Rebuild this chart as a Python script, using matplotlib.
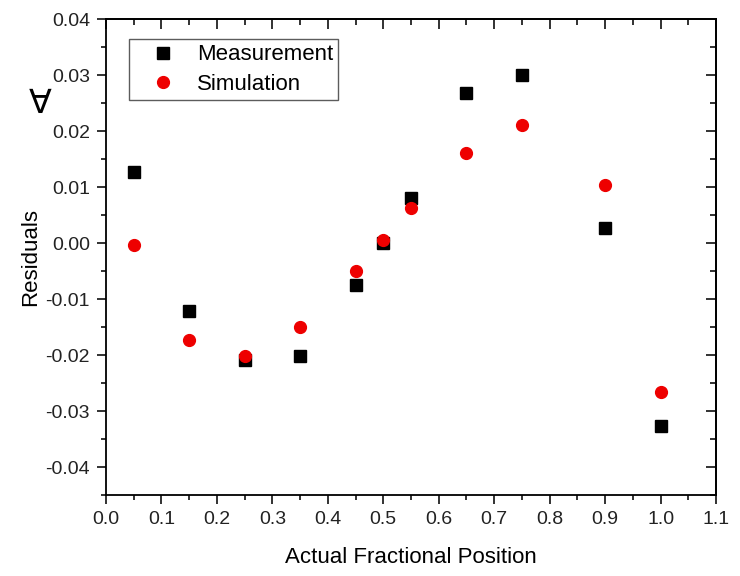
import numpy as np
import matplotlib.pyplot as plt
from matplotlib.ticker import MultipleLocator

plt.rcParams['font.family'] = ['Liberation Sans', 'DejaVu Sans']

# data
x_pos = [0.05, 0.15, 0.25, 0.35, 0.45, 0.50, 0.55, 0.65, 0.75, 0.90, 1.00]
measurement = [0.0127, -0.0121, -0.0209, -0.0202, -0.0075, 0.0000,
               0.0081, 0.0267, 0.0300, 0.0026, -0.0326]
simulation = [-0.0004, -0.0173, -0.0202, -0.0150, -0.0050, 0.0006,
              0.0062, 0.0160, 0.0210, 0.0104, -0.0266]

fig = plt.figure(figsize=(7.4, 5.76), dpi=100)
ax = fig.add_axes([0.1432, 0.1406, 0.8244, 0.8264])

ax.plot(x_pos, measurement, 's', color='black', markersize=8, label='Measurement')
ax.plot(x_pos, simulation, 'o', color='#ee0000', markersize=8.5, label='Simulation')

ax.set_xlim(0.0, 1.1)
ax.set_ylim(-0.045, 0.04)
xt = np.arange(0.0, 1.11, 0.1)
yt = np.arange(-0.04, 0.041, 0.01)
ax.set_xticks(xt)
ax.set_xticklabels([f"{v:.1f}" for v in xt])
ax.set_yticks(yt)
ax.set_yticklabels([f"{v:.2f}" for v in yt])
ax.xaxis.set_minor_locator(MultipleLocator(0.05))
ax.yaxis.set_minor_locator(MultipleLocator(0.005))

# bottom/left ticks point out
ax.tick_params(which='both', direction='out', width=1.3, labelsize=14,
               colors='#222222', pad=5)
ax.tick_params(which='major', length=6.5)
ax.tick_params(which='minor', length=3.5)

# top/right mirror ticks point in, no labels
top = ax.secondary_xaxis('top')
top.set_xticks(xt)
top.xaxis.set_minor_locator(MultipleLocator(0.05))
right = ax.secondary_yaxis('right')
right.set_yticks(yt)
right.yaxis.set_minor_locator(MultipleLocator(0.005))
for sec in (top, right):
    sec.tick_params(which='both', direction='in', width=1.3, colors='#222222',
                    labeltop=False, labelright=False, labelbottom=False, labelleft=False)
    sec.tick_params(which='major', length=7)
    sec.tick_params(which='minor', length=4.5)
    for s in sec.spines.values():
        s.set_linewidth(1.3)
for s in ax.spines.values():
    s.set_linewidth(1.3)

ax.set_xlabel("Actual Fractional Position", fontsize=16, labelpad=14)
ax.set_ylabel("Residuals", fontsize=16, labelpad=3)

fig.text(0.054, 0.818, "∀", fontsize=24, ha='center', va='center')

leg = ax.legend(loc='upper left', bbox_to_anchor=(0.037, 0.957), fontsize=16,
                frameon=True, fancybox=False, edgecolor='#333333',
                handletextpad=0.15, borderpad=0.22, labelspacing=0.38,
                handlelength=2.7, borderaxespad=0)
leg.get_frame().set_linewidth(1.0)

plt.savefig("out.png", dpi=100)
